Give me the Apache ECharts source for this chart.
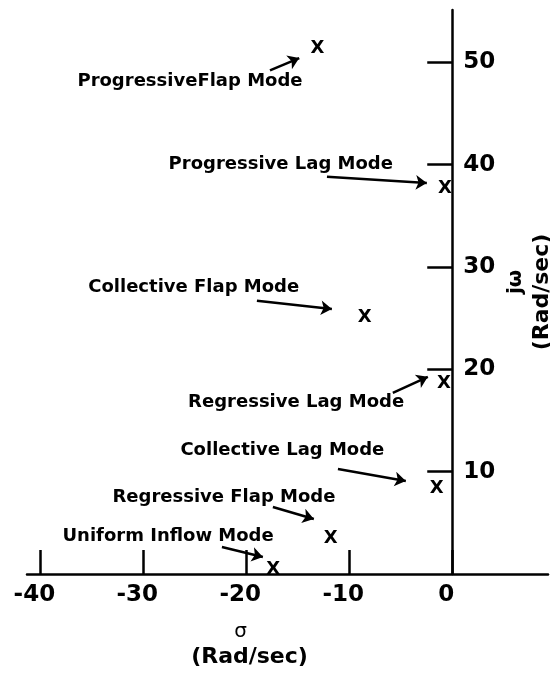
<!DOCTYPE html>
<html><head><meta charset="utf-8">
<script src="https://cdn.jsdelivr.net/npm/echarts@6/dist/echarts.min.js"></script>
<style>html,body{margin:0;padding:0;background:#fff}#c{width:550px;height:676px}</style>
</head><body><div id="c"></div>
<script>
// Mode names (order shared by all arrays below)
const modeNames = ['ProgressiveFlap Mode', 'Progressive Lag Mode', 'Collective Flap Mode',
  'Regressive Lag Mode', 'Collective Lag Mode', 'Regressive Flap Mode', 'Uniform Inflow Mode'];
// Pole locations (sigma, j omega) in rad/sec
const poleSigma = [-13.1, -0.7, -8.5, -0.8, -1.5, -11.8, -17.4];
const poleOmega = [51.4, 37.7, 25.1, 18.6, 8.4, 3.5, 0.5];
// Label anchor (left edge of text) in data units
const labelSigma = [-36.45, -27.6, -35.4, -25.7, -26.45, -33.05, -37.9];
const labelOmega = [48.1, 40.0, 28.05, 16.8, 12.1, 7.53, 3.71];
// Arrow start / end in data units
const arrowFromSigma = [-17.7, -12.17, -18.97, -5.77, -11.1, -17.42, -22.37];
const arrowFromOmega = [49.2, 38.8, 26.7, 17.7, 10.26, 6.55, 2.64];
const arrowToSigma = [-14.86, -2.47, -11.69, -2.37, -4.51, -13.44, -18.39];
const arrowToOmega = [50.4, 38.2, 25.9, 19.26, 9.09, 5.38, 1.66];
// Axis ticks
const xTicks = [-40, -30, -20, -10, 0];
const yTicks = [10, 20, 30, 40, 50];

const FONT = 'DejaVu Sans';
const W = 550, GRID_LEFT = 27, GRID_RIGHT = 2;
const X_MIN = -41.3, X_MAX = 9.3;
// place the vertical axis at sigma = 0 (offset from the grid's right edge)
const gridWidth = W - GRID_LEFT - GRID_RIGHT;
const yAxisOffset = -gridWidth * (X_MAX - 0) / (X_MAX - X_MIN);

const chart = echarts.init(document.getElementById('c'), null, {renderer: 'canvas'});

chart.setOption({
  animation: false,
  backgroundColor: '#fff',
  grid: {left: GRID_LEFT, right: GRID_RIGHT, top: 10, bottom: 102, containLabel: false, outerBoundsMode: 'none'},
  xAxis: {
    type: 'value', min: X_MIN, max: X_MAX,
    name: '{g|σ}\n{r|(Rad/sec)}', nameLocation: 'middle', nameGap: 46,
    nameTextStyle: {
      padding: [0, 76, 0, 0],
      rich: {
        g: {fontFamily: FONT, fontSize: 20, color: '#000', lineHeight: 24, align: 'center', padding: [0, 18, 0, 0]},
        r: {fontFamily: FONT, fontSize: 22, fontWeight: 'bold', color: '#000', lineHeight: 26, align: 'center'}
      }
    },
    axisLine: {onZero: false, lineStyle: {color: '#000', width: 2.5}},
    axisTick: {customValues: xTicks, inside: true, length: 24, lineStyle: {color: '#000', width: 2.5}},
    axisLabel: {customValues: xTicks, margin: 10, padding: [0, 12, 0, 0],
      fontFamily: FONT, fontSize: 23, fontWeight: 'bold', color: '#000'},
    splitLine: {show: false}
  },
  yAxis: {
    type: 'value', min: 0, max: 55.1, position: 'right', offset: yAxisOffset,
    name: '{j|jω}\n{r|(Rad/sec)}', nameLocation: 'middle', nameGap: 46, nameRotate: 90,
    nameTextStyle: {
      rich: {
        j: {fontFamily: FONT, fontSize: 20, fontWeight: 'bold', color: '#000', lineHeight: 26, align: 'center', padding: [0, 0, 0, 20]},
        r: {fontFamily: FONT, fontSize: 22, fontWeight: 'bold', color: '#000', lineHeight: 26, align: 'center'}
      }
    },
    axisLine: {onZero: false, lineStyle: {color: '#000', width: 2.5}},
    axisTick: {customValues: yTicks, inside: true, length: 25, lineStyle: {color: '#000', width: 2.5}},
    axisLabel: {customValues: yTicks, margin: 11,
      fontFamily: FONT, fontSize: 23, fontWeight: 'bold', color: '#000'},
    splitLine: {show: false}
  },
  series: [
    {
      type: 'scatter', name: 'poles',
      symbol: 'circle', symbolSize: 1,
      itemStyle: {color: 'rgba(0,0,0,0)', opacity: 1},
      data: poleSigma.map((s, i) => [s, poleOmega[i]]),
      label: {show: true, formatter: 'X', position: 'inside',
        fontFamily: FONT, fontSize: 18, fontWeight: 'bold', color: '#000'},
      silent: true
    },
    {
      type: 'scatter', name: 'labels',
      symbol: 'circle', symbolSize: 1,
      itemStyle: {color: 'rgba(0,0,0,0)', opacity: 1},
      data: labelSigma.map((s, i) => ({value: [s, labelOmega[i]], name: modeNames[i]})),
      label: {show: true, formatter: p => p.name, position: 'right', distance: 0,
        fontFamily: FONT, fontSize: 18, fontWeight: 'bold', color: '#000'},
      silent: true
    },
    {
      type: 'lines', coordinateSystem: 'cartesian2d',
      symbol: ['none', 'arrow'], symbolSize: 11,
      lineStyle: {color: '#000', width: 2.5, opacity: 1},
      data: arrowFromSigma.map((s, i) => ({coords: [[s, arrowFromOmega[i]], [arrowToSigma[i], arrowToOmega[i]]]})),
      silent: true
    }
  ]
});
</script>
</body></html>
